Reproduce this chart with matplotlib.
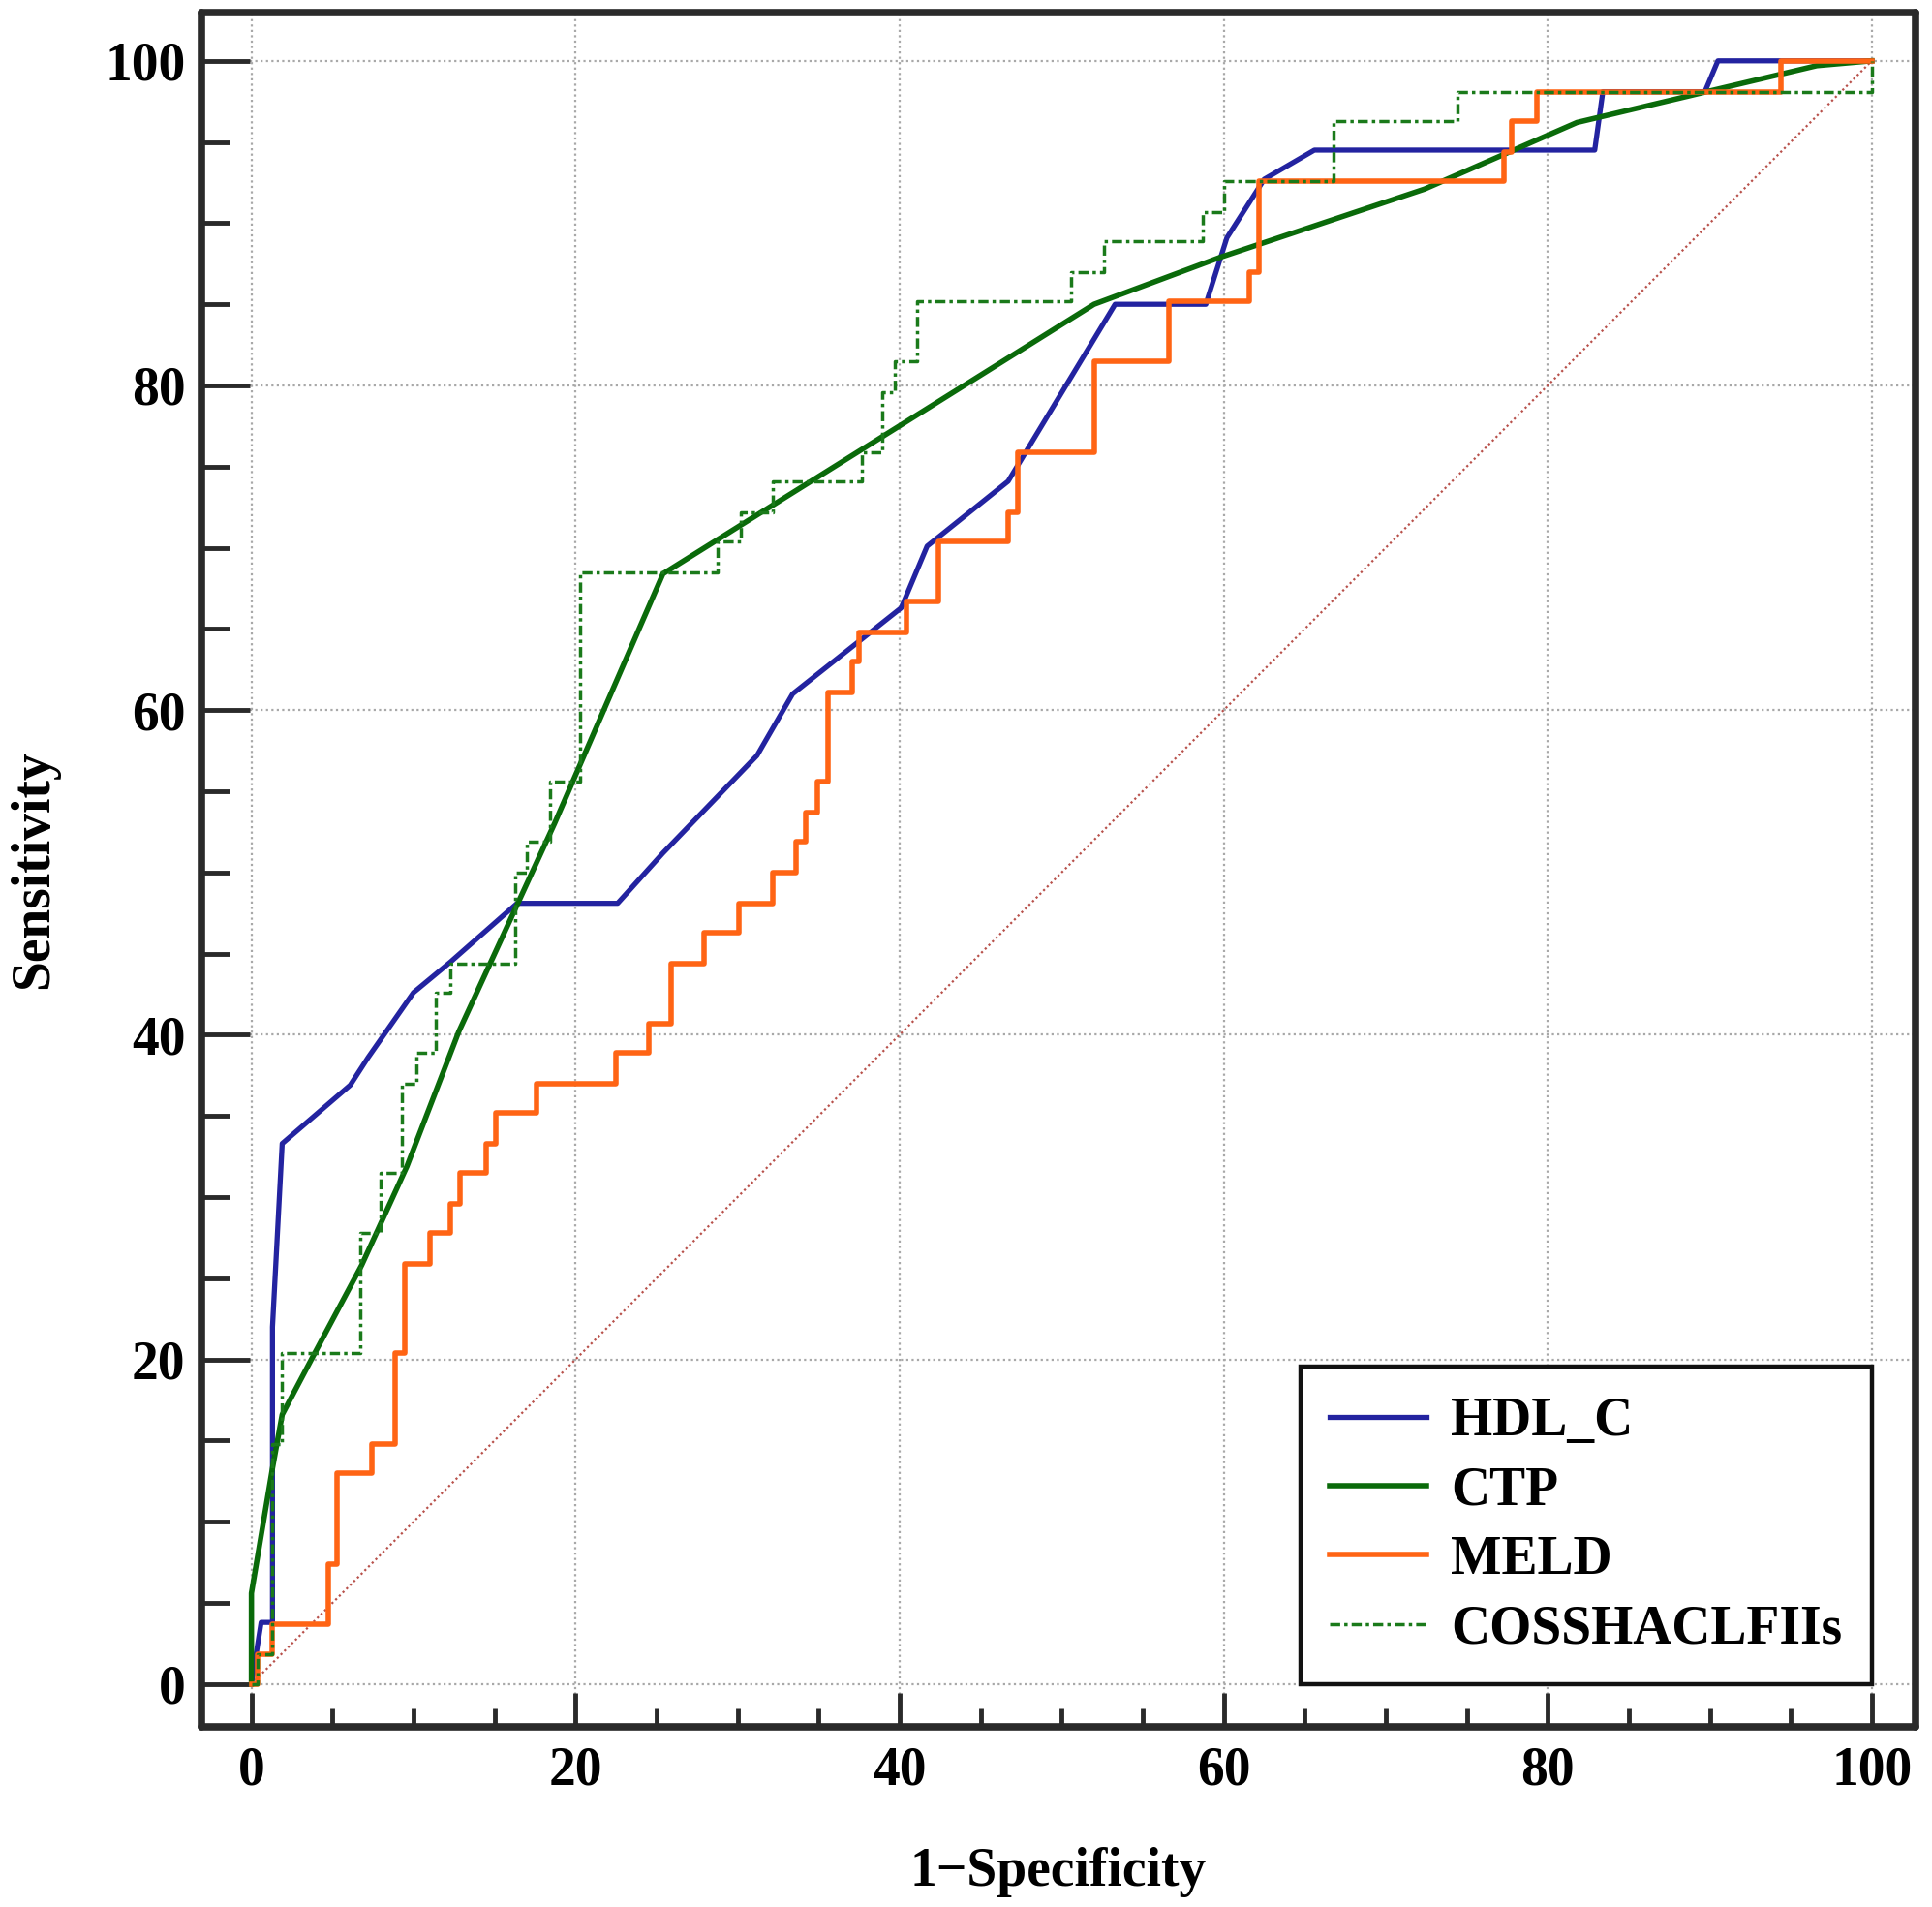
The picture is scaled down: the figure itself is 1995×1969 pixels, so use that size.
import matplotlib
matplotlib.use("Agg")
import matplotlib.pyplot as plt
from matplotlib.ticker import MultipleLocator

plt.rcParams['font.family'] = ['Liberation Serif', 'DejaVu Serif']
plt.rcParams['font.weight'] = 'bold'

# ROC curves (1-specificity %, sensitivity %)
hdl_x = [0, 0.6, 1.3, 1.3, 1.9, 6.1, 7.2, 10.0, 12.3, 16.4, 22.6, 25.4, 31.2, 33.4,
         40.1, 41.7, 46.7, 53.3, 58.9, 60.2, 62.5, 65.6, 82.9, 83.4, 89.7, 90.5, 100]
hdl_y = [0, 3.8, 3.8, 22.0, 33.3, 36.9, 38.6, 42.6, 44.5, 48.1, 48.1, 51.2, 57.2, 61.0,
         66.3, 70.1, 74.1, 85.0, 85.0, 89.1, 92.7, 94.5, 94.5, 98.1, 98.1, 100, 100]

ctp_x = [0, 0, 1.3, 1.9, 3.7, 6.8, 9.6, 12.8, 18.7, 25.4, 52.0, 59.8, 72.4, 81.8,
         89.4, 96.6, 100]
ctp_y = [0, 5.6, 13.3, 16.6, 20.0, 25.8, 31.9, 40.2, 53.0, 68.4, 85.0, 87.9, 92.1,
         96.2, 98.0, 99.7, 100]

# step curves: points where each vertical rise happens
meld_x = [0, 0.4, 1.3, 4.75, 5.3, 7.45, 8.85, 9.45, 11.0, 12.3, 12.85, 14.5, 15.1,
          17.6, 22.5, 24.5, 25.9, 27.95, 30.1, 32.2, 33.6, 34.2, 34.9, 35.6, 37.05,
          37.5, 40.4, 42.4, 46.7, 47.3, 52.0, 56.6, 61.6, 62.2, 77.3, 77.8, 79.3,
          94.4, 100]
meld_y = [0, 1.85, 3.7, 7.4, 13.0, 14.8, 20.4, 25.9, 27.8, 29.6, 31.5, 33.3, 35.2,
          37.0, 38.9, 40.7, 44.4, 46.3, 48.1, 50.0, 51.9, 53.7, 55.6, 61.1, 63.0,
          64.8, 66.7, 70.4, 72.2, 75.9, 81.5, 85.2, 87.0, 92.6, 94.4, 96.3, 98.1,
          100, 100]

coss_x = [0, 0.4, 1.3, 1.3, 1.9, 6.7, 8.0, 9.3, 10.2, 11.4, 12.3, 16.3, 17.0, 18.45,
          20.3, 28.75, 30.2, 32.2, 37.7, 38.9, 39.7, 41.1, 50.6, 52.6, 58.7, 60.0,
          66.8, 74.4, 100, 100]
coss_y = [0, 1.85, 3.7, 14.8, 20.4, 27.8, 31.5, 37.0, 38.9, 42.6, 44.4, 50.0, 51.9,
          55.6, 68.5, 70.4, 72.2, 74.1, 75.9, 79.6, 81.5, 85.2, 87.0, 88.9, 90.7,
          92.6, 96.3, 98.1, 98.1, 100]

diag = [0, 100]

fig = plt.figure(figsize=(19.95, 19.69), dpi=100)
ax = fig.add_axes([0.1043, 0.0945, 0.9915 - 0.1043, 0.99365 - 0.0945])

ax.plot(diag, diag, color='#b8504a', lw=1.6, linestyle=(0, (1, 1.4)), zorder=2)
ax.plot(hdl_x, hdl_y, color='#2323a0', lw=3.8, label='HDL_C', zorder=3)
ax.plot(ctp_x, ctp_y, color='#0a6a0a', lw=4.0, label='CTP', zorder=3)
ax.plot(meld_x, meld_y, color='#ff6414', lw=4.0, drawstyle='steps-post',
        label='MELD', zorder=3)
ax.plot(coss_x, coss_y, color='#1a7a1a', lw=2.5, drawstyle='steps-post',
        linestyle=(0, (3, 1.2, 1, 1.2)), label='COSSHACLFIIs', zorder=4)

ax.set_xlim(-3.08, 102.7)
ax.set_ylim(-2.63, 103.0)

ax.xaxis.set_major_locator(MultipleLocator(20))
ax.xaxis.set_minor_locator(MultipleLocator(5))
ax.yaxis.set_major_locator(MultipleLocator(20))
ax.yaxis.set_minor_locator(MultipleLocator(5))

ax.grid(True, which='major', color='#a8a8a8', lw=1.6, linestyle=(0, (1, 1.5)))
ax.set_axisbelow(True)

for s in ax.spines.values():
    s.set_linewidth(5.5)
    s.set_color('#2a2a2a')
    s.set_capstyle('round')

ax.tick_params(axis='y', which='major', direction='in', length=36, width=3.5,
               color='#2a2a2a', labelsize=40, pad=12, right=False)
ax.tick_params(axis='y', which='minor', direction='in', length=21, width=3.5,
               color='#2a2a2a', right=False)
ax.tick_params(axis='x', which='major', direction='in', length=25, width=3.5,
               color='#2a2a2a', labelsize=40, pad=14, top=False)
ax.tick_params(axis='x', which='minor', direction='in', length=14, width=3.5,
               color='#2a2a2a', top=False)

for lab in ax.get_xticklabels() + ax.get_yticklabels():
    lab.set_fontweight('bold')

ax.set_xlabel('1\u2212Specificity', fontsize=40, fontweight='bold', labelpad=38)
ax.set_ylabel('Sensitivity', fontsize=40, fontweight='bold', labelpad=34)

leg = ax.legend(loc='lower right', bbox_to_anchor=(100, 0),
                bbox_transform=ax.transData, borderaxespad=0,
                prop={'family': 'Liberation Serif', 'weight': 'bold', 'size': 40},
                handlelength=1.8, handletextpad=0.45, labelspacing=0.35,
                borderpad=0.55, fancybox=False, framealpha=1)
leg.get_frame().set_edgecolor('#111111')
leg.get_frame().set_linewidth(3.2)

fig.savefig('out.png', dpi=100)
